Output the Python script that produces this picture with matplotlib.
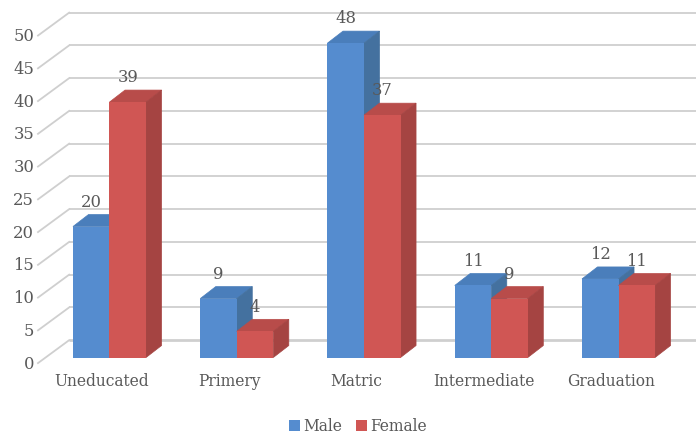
import matplotlib.pyplot as plt
from matplotlib.patches import Polygon, Rectangle

categories = ['Uneducated', 'Primery', 'Matric', 'Intermediate', 'Graduation']
male = [20, 9, 48, 11, 12]
female = [39, 4, 37, 9, 11]
y_ticks = [0, 5, 10, 15, 20, 25, 30, 35, 40, 45, 50]

# face colours: front, top, side
blue = ('#558ccf', '#4a7ebb', '#44719f')
red = ('#d05654', '#b84c4a', '#a54442')
grid_col = '#cfcfcf'
text_col = '#595959'
font = 'DejaVu Serif'

# oblique depth of the bars and of the side wall, in data units
bar_w = 0.287
bar_dx, bar_dy = 0.122, 1.83
wall_dx, wall_dy = 0.245, 3.5
wall_left = -0.562
floor_up = 2.65

fig = plt.figure(figsize=(6.96, 4.36), dpi=100)
ax = fig.add_axes([0, 0, 1, 1])
ax.set_xlim(-0.8605, 4.609)
ax.set_ylim(-11.98, 54.58)
ax.axis('off')

# gridlines on the back wall and the slanted ones on the side wall
for t in y_ticks:
    lw = 2.0 if t == 0 else 1.3
    back = t + floor_up
    ax.plot([wall_left + wall_dx, 4.609], [back, back], color=grid_col, lw=lw, zorder=1,
            solid_capstyle='butt')
    ax.plot([wall_left, wall_left + wall_dx], [back - wall_dy, back], color=grid_col, lw=1.3, zorder=1)
    ax.text(wall_left - 0.03, t - 1.0, str(t), ha='right', va='center', color=text_col,
            fontsize=11.8, family=font)


def draw_bar(x, v, cols, z):
    ax.add_patch(Rectangle((x, 0), bar_w, v, fc=cols[0], ec='none', zorder=z + 0.2))
    ax.add_patch(Polygon([(x, v), (x + bar_w, v), (x + bar_w + bar_dx, v + bar_dy), (x + bar_dx, v + bar_dy)],
                         fc=cols[1], ec=cols[1], lw=0.5, zorder=z))
    ax.add_patch(Polygon([(x + bar_w, 0), (x + bar_w + bar_dx, bar_dy), (x + bar_w + bar_dx, v + bar_dy), (x + bar_w, v)],
                         fc=cols[2], ec=cols[2], lw=0.5, zorder=z))


for i, name in enumerate(categories):
    draw_bar(i - bar_w, male[i], blue, 2)
    draw_bar(i, female[i], red, 3)
    ax.text(i - bar_w / 2, male[i] + 3.7, str(male[i]), ha='center', va='center', color=text_col,
            fontsize=11.8, family=font, zorder=5)
    ax.text(i + bar_w / 2, female[i] + 3.7, str(female[i]), ha='center', va='center', color=text_col,
            fontsize=11.8, family=font, zorder=5)
    ax.text(i - 0.06, -3.6, name, ha='center', va='center', color=text_col, fontsize=11.2, family=font)

# legend row under the chart
handles = [Rectangle((0, 0), 1, 1, fc=blue[0]), Rectangle((0, 0), 1, 1, fc=red[0])]
leg = ax.legend(handles, ['Male', 'Female'], ncol=2, loc='center', bbox_to_anchor=(0.5144, 0.022),
                frameon=False, handlelength=0.7, handleheight=0.7, handletextpad=0.25, columnspacing=0.85,
                prop={'family': font, 'size': 11.2}, labelcolor=text_col)

fig.savefig('out.png', dpi=100)
